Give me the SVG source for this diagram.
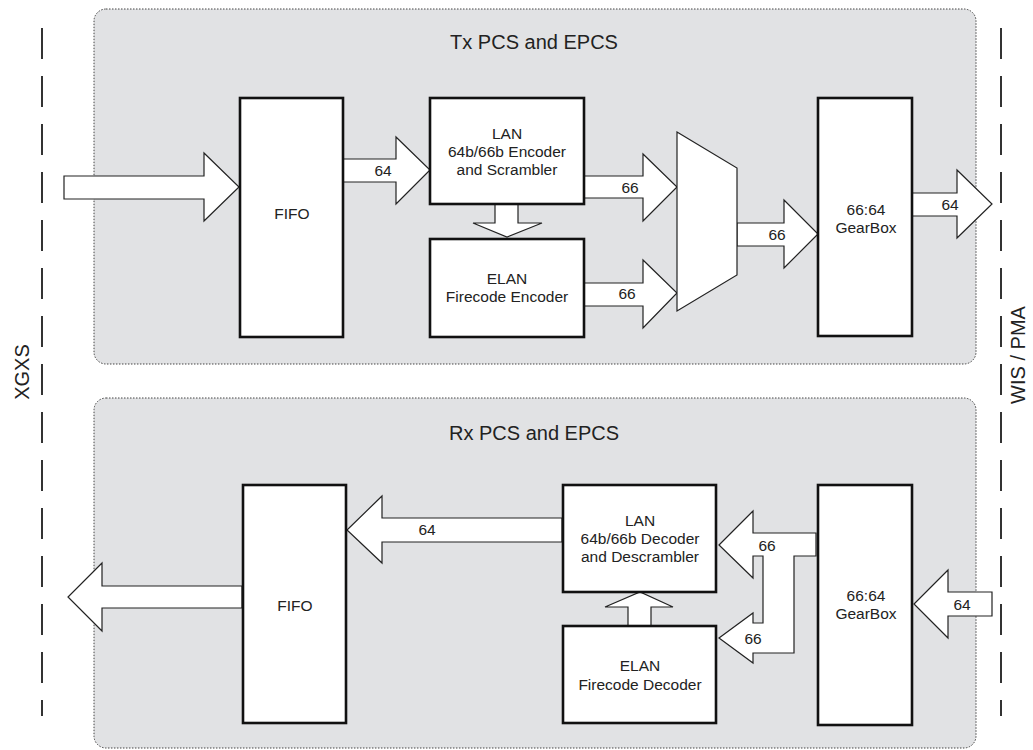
<svg xmlns="http://www.w3.org/2000/svg" width="1033" height="750" viewBox="0 0 1033 750">
<style>
.panel{fill:#e1e2e4;stroke:#444;stroke-width:1;stroke-dasharray:1.5 1.5}
.box{fill:#fff;stroke:#111;stroke-width:2.6}
.arr{fill:#fff;stroke:#222;stroke-width:1.2;stroke-linejoin:miter}
.bound{stroke:#333;stroke-width:2;stroke-dasharray:31 17;fill:none}
text{font-family:"Liberation Sans",Arial,sans-serif;fill:#222}
.t{font-size:15.5px;text-anchor:middle}
.title{font-size:20px;text-anchor:middle}
.side{font-size:20px;text-anchor:middle}
</style>
<rect width="1033" height="750" fill="#fff"/>
<g id="boundaries">
<line class="bound" x1="42" y1="28" x2="42" y2="716"/>
<line class="bound" x1="1001" y1="28" x2="1001" y2="716"/>
<text class="side" transform="translate(29,372) rotate(-90)">XGXS</text>
<text class="side" transform="translate(1025,355) rotate(-90)">WIS / PMA</text>
</g>
<g id="tx-panel">
<rect class="panel" x="94" y="9" width="882" height="355" rx="12"/>
<text class="title" x="534" y="49">Tx PCS and EPCS</text>
</g>
<g id="rx-panel">
<rect class="panel" x="94" y="398" width="882" height="350" rx="12"/>
<text class="title" x="534" y="440">Rx PCS and EPCS</text>
</g>
<g id="connectors">
<!-- Tx -->
<polygon class="arr" points="64,176 204,176 204,153 239,187 204,221 204,199 64,199"/>
<polygon class="arr" points="343,159 396,159 396,137 430,170 396,204 396,182 343,182"/>
<polygon class="arr" points="495,204 518,204 518,223 542,223 507,237 473,223 495,223"/>
<polygon class="arr" points="584,176 643,176 643,154 677,187 643,221 643,198 584,198"/>
<polygon class="arr" points="584,283 643,283 643,260 677,293 643,328 643,306 584,306"/>
<polygon class="arr" points="737,223 784,223 784,200 818,234 784,268 784,246 737,246"/>
<polygon class="arr" points="912,193 957,193 957,170 992,204 957,238 957,216 912,216"/>
<!-- Rx -->
<polygon class="arr" points="992,592 948,592 948,570 914,604 948,638 948,616 992,616"/>
<polygon class="arr" points="719,545 753,511 753,533 816,533 816,556 794,556 794,653 753,653 753,663 719,638 753,613 753,623 763,623 763,556 753,556 753,578"/>
<polygon class="arr" points="562,518 382,518 382,496 347,530 382,563 382,542 562,542"/>
<polygon class="arr" points="242,586 102,586 102,563 68,597 102,631 102,608 242,608"/>
<polygon class="arr" points="628,626 628,607 605,607 640,592 673,607 651,607 651,626"/>
<text class="t" x="383" y="176">64</text>
<text class="t" x="630" y="193">66</text>
<text class="t" x="627" y="299">66</text>
<text class="t" x="777" y="240">66</text>
<text class="t" x="950" y="210">64</text>
<text class="t" x="962" y="610">64</text>
<text class="t" x="767" y="551">66</text>
<text class="t" x="753" y="644">66</text>
<text class="t" x="427" y="535">64</text>
</g>
<g id="tx-fifo">
<rect class="box" x="240" y="98" width="103" height="239"/>
<text class="t" x="292" y="219">FIFO</text>
</g>
<g id="tx-lan">
<rect class="box" x="430" y="98" width="154" height="106"/>
<text class="t" x="507" y="139">LAN</text>
<text class="t" x="507" y="157">64b/66b Encoder</text>
<text class="t" x="507" y="175">and Scrambler</text>
</g>
<g id="tx-elan">
<rect class="box" x="430" y="239" width="154" height="98"/>
<text class="t" x="507" y="284">ELAN</text>
<text class="t" x="507" y="302">Firecode Encoder</text>
</g>
<g id="tx-mux">
<polygon class="arr" points="677,132 737,168 737,275 677,311"/>
</g>
<g id="tx-gearbox">
<rect class="box" x="818" y="98" width="94" height="238"/>
<text class="t" x="866" y="215">66:64</text>
<text class="t" x="866" y="233">GearBox</text>
</g>
<g id="rx-fifo">
<rect class="box" x="243" y="485" width="103" height="238"/>
<text class="t" x="295" y="611">FIFO</text>
</g>
<g id="rx-lan">
<rect class="box" x="563" y="485" width="153" height="107"/>
<text class="t" x="640" y="526">LAN</text>
<text class="t" x="640" y="544">64b/66b Decoder</text>
<text class="t" x="640" y="562">and Descrambler</text>
</g>
<g id="rx-elan">
<rect class="box" x="563" y="626" width="153" height="97"/>
<text class="t" x="640" y="671">ELAN</text>
<text class="t" x="640" y="690">Firecode Decoder</text>
</g>
<g id="rx-gearbox">
<rect class="box" x="818" y="485" width="94" height="240"/>
<text class="t" x="866" y="601">66:64</text>
<text class="t" x="866" y="619">GearBox</text>
</g>
</svg>
